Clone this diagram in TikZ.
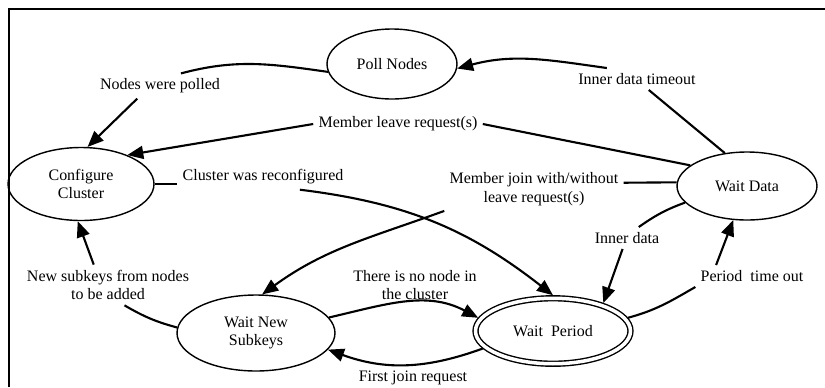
\documentclass[tikz,border=0pt]{standalone}
\usepackage{fontspec}
\setmainfont{Liberation Serif}
\usepackage{tikz}
\usetikzlibrary{arrows.meta, shapes.geometric}
\usetikzlibrary{positioning}

\tikzset{
	state/.style={ellipse, draw, line width=0.8pt, inner sep=0pt, align=center},
	lbl/.style={inner sep=0.1cm, align=center},
	trans/.style={line width=1.2pt},
	arr/.style={trans, -{Triangle[length=0.32cm, width=0.26cm]}}
}

\begin{document}
\begin{tikzpicture}[x=0.02cm, y=0.02cm, every node/.style={font=\fontsize{9.1pt}{10.6pt}\selectfont}]
				\useasboundingbox (0,0) rectangle (825,387);
				\draw[line width=1.3pt] (9,0) -- (9,378) -- (825,378);
				
				% states
				\node[state, minimum width=2.6cm, minimum height=1.4cm] (PollNodes) at (392,323) {Poll Nodes};
				\node[state, minimum width=2.92cm, minimum height=1.46cm] (ConfigCluster) at (81,203) {Configure\\Cluster};
				\node[state, minimum width=2.8cm, minimum height=1.36cm] (WaitData) at (747,201) {Wait Data};
				\node[state, minimum width=3.16cm, minimum height=1.52cm] (WaitSubkeys) at (256,54) {Wait New\\Subkeys};
				\node[state, double, double distance=0.07cm, outer sep=0.06cm, minimum width=3.1cm, minimum height=1.31cm] (WaitPeriod) at (553,56) {Wait~~Period};
				
				% labels
				\node[lbl] (lblPolled) at (160,301) {Nodes were polled};
				\node[lbl] (lblLeave) at (398,263) {Member leave request(s)};
				\node[lbl] (lblReconf) at (263,210) {Cluster was reconfigured};
				\node[lbl] (lblJoin) at (534,198) {Member join with/without\\leave request(s)};
				\node[lbl] (lblSubkeys) at (108,102) {New subkeys from nodes\\to be added};
				\node[lbl] (lblNoNode) at (415,102) {There is no node in\\the cluster};
				\node[lbl] (lblFirstJoin) at (413,9) {First join request};
				\node[lbl] (lblTimeout) at (637,308) {Inner data timeout};
				\node[lbl] (lblInner) at (627,149) {Inner data};
				\node[lbl] (lblPeriod) at (752,111) {Period~~time out};
				
				% transitions
				\draw[trans] (PollNodes.187) to[out=172, in=15] (lblPolled.31);
				\draw[arr] (lblPolled.209) -- (ConfigCluster.80);
				\draw[trans] (WaitData.160) -- (lblLeave.east);
				\draw[arr] (lblLeave.west) -- (ConfigCluster.32);
				\draw[trans] (ConfigCluster.east) -- (ConfigCluster.east -| lblReconf.west);
				\draw[arr] (lblReconf.-19) to[out=-7, in=142] (WaitPeriod.north);
				\draw[trans] (WaitData.177) -- (lblJoin.4);
				\draw[arr] (lblJoin.south west) to[out=200, in=36] (WaitSubkeys.81);
				\draw[trans] (WaitSubkeys.176) to[out=165, in=-30] (lblSubkeys.-51);
				\draw[arr] (lblSubkeys.125) -- (ConfigCluster.265);
				\draw[arr] (WaitSubkeys.12) to[out=13, in=152] (WaitPeriod.170);
				\draw[arr] (WaitPeriod.194) to[out=200, in=-20] (WaitSubkeys.-13);
				\draw[trans] (WaitData.124) -- (lblTimeout.-43);
				\draw[arr] (lblTimeout.160) to[out=172, in=15] (PollNodes.-4);
				\draw[trans] (WaitData.195) to[out=200, in=35] (lblInner.43);
				\draw[arr] (lblInner.248) -- (WaitPeriod.29);
				\draw[trans] (WaitPeriod.10) to[out=15, in=210] (lblPeriod.south west);
				\draw[arr] (lblPeriod.163) -- (WaitData.248);
			\end{tikzpicture}
\end{document}
